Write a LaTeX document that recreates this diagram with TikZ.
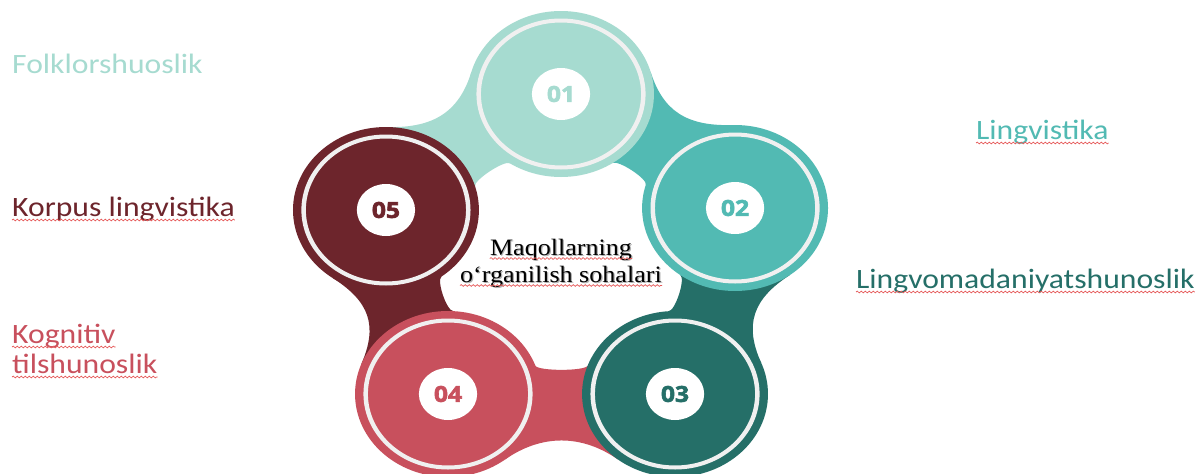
\documentclass[tikz,border=0pt]{standalone}
\usepackage{fontspec}
\usetikzlibrary{calc,decorations.pathmorphing}
\newfontfamily\labfont[FakeStretch=1.13]{Carlito}
\newfontfamily\numfont[FakeBold=2.6]{Open Sans}
\newfontfamily\ctrfont[FakeStretch=1.11]{Liberation Serif}
\definecolor{cA}{HTML}{A6DBD0}
\definecolor{cB}{HTML}{52BAB3}
\definecolor{cC}{HTML}{256F68}
\definecolor{cD}{HTML}{C8505D}
\definecolor{cE}{HTML}{6D252C}
\definecolor{ringcol}{HTML}{F0F0F0}
\definecolor{wavecol}{HTML}{E65A5A}
\definecolor{shadowcol}{HTML}{B0B0B0}
\begin{document}
\begin{tikzpicture}[x=1pt,y=-1pt,
  wavy/.style={draw=wavecol, line width=0.7pt, decorate,
    decoration={snake, amplitude=0.9pt, segment length=4pt}},
  lab/.style={anchor=base west, inner sep=0pt,
    font=\labfont\fontsize{28}{34}\selectfont},
  ctr/.style={anchor=base, inner sep=0pt,
    font=\ctrfont\fontsize{23.5}{27}\selectfont},
  disc/.style={circle, minimum size=166pt, inner sep=0pt},
  ring/.style={draw=ringcol, line width=4pt},
  numlab/.style={circle, fill=white, minimum size=52pt, inner sep=0pt,
    font=\numfont\bfseries\fontsize{22}{24}\selectfont}]
\useasboundingbox (0,0) rectangle (1203,474);
\fill[white] (0,0) rectangle (1203,474);

\begin{scope}[transform canvas={xscale=1.12}]
  \coordinate (c1) at (500.9,94);
  \coordinate (c2) at (656.3,208);
  \coordinate (c3) at (602.7,394);
  \coordinate (c4) at (400,394);
  \coordinate (c5) at (344.6,210);
  % connecting bands (each in the colour of the circle it leads to)
  \foreach \a/\b/\col in {c1/c2/cB, c2/c3/cC, c3/c4/cD, c4/c5/cE, c5/c1/cA}{
    \path ($(\a)!83pt!52:(\b)$) coordinate (ao)
          ($(\b)!83pt!-52:(\a)$) coordinate (bo)
          ($(\a)!83pt!-20:(\b)$) coordinate (ai)
          ($(\b)!83pt!20:(\a)$) coordinate (bi);
    \fill[\col] (ao) .. controls ($(ao)!41pt!90:(\a)$) and ($(bo)!41pt!-90:(\b)$) .. (bo)
      -- (bi) .. controls ($(bi)!6pt!90:(\b)$) and ($(ai)!6pt!-90:(\a)$) .. (ai) -- cycle;
  }
  % circles
  \foreach \i/\col/\t in {1/cA/01, 2/cB/02, 3/cC/03, 4/cD/04, 5/cE/05}{
    \node[disc, fill=\col] (d\i) at (c\i) {};
    \draw[ring] (d\i.center) circle[radius=73.5pt];
    \node[numlab, text=\col] (n\i) at (d\i.center) {\t};
  }
\end{scope}

% centre title with soft shadow
\node[ctr, text=shadowcol] (t1s) at (562.2,256.2) {Maqollarning};
\node[ctr, text=shadowcol] (t2s) at (562.2,283.2) {o‘rganilish sohalari};
\node[ctr, text=black] (t1) at (561,255) {Maqollarning};
\node[ctr, text=black] (t2) at (561,282) {o‘rganilish sohalari};
\draw[wavy] ($(t1.base west)+(0,3.5)$) -- ($(t1.base east)+(0,3.5)$);
\draw[wavy] ($(t2.base west)+(0,3.5)$) -- ($(t2.base east)+(0,3.5)$);

% side labels
\node[lab, text=cA] (l1) at (12,73) {Folklorshuoslik};
\node[lab, text=cB] (l2) at (976,139) {Lingvistika};
\node[lab, text=cC] (l3) at (856,288) {Lingvomadaniyatshunoslik};
\node[lab, text=cD] (l4a) at (12,343) {Kognitiv};
\node[lab, text=cD] (l4b) at (12,373) {tilshunoslik};
\node[lab, text=cE] (l5) at (12,216) {Korpus lingvistika};

\foreach \n in {l2,l3,l4a,l4b,l5}{
  \draw[wavy] ($(\n.base west)+(0,4)$) -- ($(\n.base east)+(0,4)$);
}
\end{tikzpicture}
\end{document}
